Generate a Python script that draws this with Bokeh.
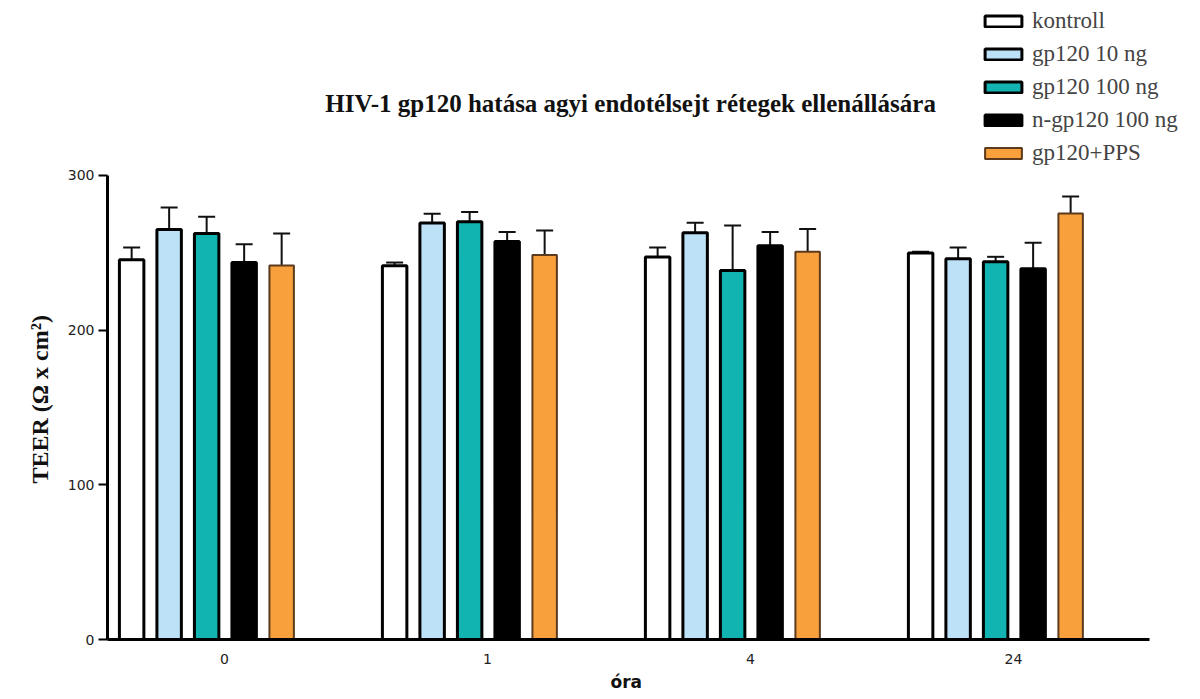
from bokeh.plotting import figure
from bokeh.models import (ColumnDataSource, Range1d, FixedTicker, Whisker, TeeHead,
                          Legend, LegendItem, Label, Title)
from bokeh.embed import file_html
from bokeh.resources import INLINE

# ---- data ----
groups = ["0", "1", "4", "24"]
series = ["kontroll", "gp120 10 ng", "gp120 100 ng", "n-gp120 100 ng", "gp120+PPS"]
kontroll = [245.5, 241.6, 247.2, 249.8]
gp120_10 = [265.1, 269.2, 263.0, 246.1]
gp120_100 = [262.5, 270.0, 238.6, 244.2]
n_gp120_100 = [243.7, 257.3, 254.5, 239.7]
gp120_pps = [241.8, 248.5, 250.7, 275.4]
err_kontroll = [7.9, 2.1, 6.2, 0.9]
err_gp120_10 = [14.2, 6.0, 6.4, 7.3]
err_gp120_100 = [10.8, 6.3, 29.1, 3.2]
err_n_gp120_100 = [11.9, 6.1, 8.9, 16.8]
err_gp120_pps = [20.7, 15.9, 14.6, 11.0]
y_ticks = [0, 100, 200, 300]

values = [kontroll, gp120_10, gp120_100, n_gp120_100, gp120_pps]
errors = [err_kontroll, err_gp120_10, err_gp120_100, err_n_gp120_100, err_gp120_pps]
fills = ["#ffffff", "#bde2f7", "#12b4b2", "#000000", "#f7a03c"]
lines = ["#000000", "#000000", "#000000", "#000000", "#5c3a1e"]
lwidths = [3, 3, 3, 3, 2]

# frame spans whole top/right so that legend and title (outside the axes) are not clipped
p = figure(width=1200, height=699, output_backend="svg", toolbar_location=None,
           x_range=Range1d(-0.445, 3.711), y_range=Range1d(0, 413.1),
           min_border_left=107, min_border_right=0, min_border_top=0, min_border_bottom=60)
p.outline_line_color = None
p.xgrid.visible = False
p.ygrid.visible = False
p.background_fill_color = "white"
p.border_fill_color = "white"

shift = -0.068
step = 0.1426
bw = 0.093
items = []
for j, name in enumerate(series):
    xs = [i + shift + (j - 2) * step for i in range(len(groups))]
    src = ColumnDataSource(dict(x=xs, top=values[j],
                                upper=[v + e for v, e in zip(values[j], errors[j])]))
    w = Whisker(source=src, base="x", lower="top", upper="upper", dimension="height",
                line_color="#111111", line_width=2, lower_head=None,
                upper_head=TeeHead(size=17, line_color="#111111", line_width=2))
    p.add_layout(w)
    r = p.vbar(x="x", top="top", bottom=0, width=bw, source=src,
               fill_color=fills[j], line_color=lines[j], line_width=lwidths[j])
    items.append(LegendItem(label=name, renderers=[r]))

legend = Legend(items=items, location=(873, 473), glyph_width=46, glyph_height=14,
                label_text_font="Liberation Serif", label_text_font_size="23px",
                label_standoff=6, spacing=7, padding=0, margin=0,
                border_line_color=None, background_fill_alpha=0, label_height=24)
p.add_layout(legend, "center")

# axes
p.xaxis.bounds = (-0.445, 3.517)
p.xaxis.ticker = FixedTicker(ticks=list(range(len(groups))))
p.xaxis.major_label_overrides = {i: g for i, g in enumerate(groups)}
p.xaxis.major_tick_line_color = None
p.xaxis.major_tick_out = 0
p.xaxis.major_tick_in = 0
p.xaxis.minor_tick_line_color = None
p.xaxis.axis_line_width = 3
p.xaxis.axis_line_color = "black"
p.xaxis.major_label_standoff = 14
p.xaxis.major_label_text_font = "DejaVu Sans"
p.xaxis.major_label_text_font_size = "14px"
p.xaxis.major_label_text_color = "#222222"

p.yaxis.bounds = (0, 300)
p.yaxis.ticker = FixedTicker(ticks=y_ticks)
p.yaxis.minor_tick_line_color = None
p.yaxis.major_tick_in = 0
p.yaxis.major_tick_out = 9
p.yaxis.major_tick_line_width = 2
p.yaxis.axis_line_width = 3
p.yaxis.axis_line_color = "black"
p.yaxis.major_label_standoff = 4
p.yaxis.major_label_text_font = "DejaVu Sans"
p.yaxis.major_label_text_font_size = "14px"
p.yaxis.major_label_text_color = "#222222"

# axis titles (as side titles so they can be placed along the bounded axes)
ylab = Title(text="TEER (Ω x cm²)", align="left", offset=156, standoff=24,
             text_font="Liberation Serif", text_font_style="bold", text_font_size="24px",
             text_color="#111111")
p.add_layout(ylab, "left")
xlab = Title(text="óra", align="left", offset=503, standoff=6,
             text_font="DejaVu Sans", text_font_style="bold", text_font_size="17px",
             text_color="#111111")
p.add_layout(xlab, "below")

title = Label(x=1.544, y=346.5, text="HIV-1 gp120 hatása agyi endotélsejt rétegek ellenállására",
              text_align="center", text_baseline="middle", text_font="Liberation Serif",
              text_font_style="bold", text_font_size="25px", text_color="#111111")
p.add_layout(title)

open("out.html", "w").write(file_html(p, INLINE))
